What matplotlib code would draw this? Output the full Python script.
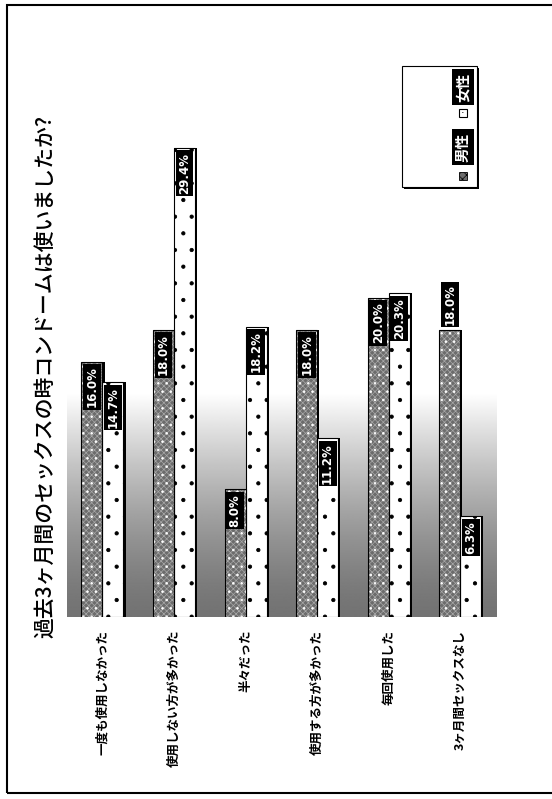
import numpy as np
import matplotlib.pyplot as plt
from matplotlib.patches import Rectangle

plt.rcParams['font.family'] = ['Noto Sans CJK JP', 'DejaVu Sans']

title = '過去3ヶ月間のセックスの時コンドームは使いましたか?'
categories = ['一度も使用しなかった', '使用しない方が多かった', '半々だった',
              '使用する方が多かった', '毎回使用した', '3ヶ月間セックスなし']
male = [16.0, 18.0, 8.0, 18.0, 20.0, 18.0]
female = [14.7, 29.4, 18.2, 11.2, 20.3, 6.3]
legend_labels = ['男性', '女性']

W, H = 552, 799
fig = plt.figure(figsize=(W / 100, H / 100), dpi=100)
ax = fig.add_axes([0.1208, 0.2278, 0.778, 0.599])
ax.set_xlim(-0.5, 5.5)
ax.set_ylim(0, 30)
ax.axis('off')

# shaded floor behind the bars
t = np.linspace(0, 1, 256)
grad = (0.45 + 0.55 * t ** 1.4).reshape(-1, 1)
ax.imshow(grad, extent=(-0.5, 5.5, 0, 14), origin='lower', cmap='gray',
          vmin=0, vmax=1, aspect='auto', zorder=0)

x = np.arange(len(categories))
w = 0.293
xm = x - w / 2
xf = x + w / 2

# dark shadow on the right side of each bar
ax.bar(xm + 0.03, male, w, color='black', zorder=2)
ax.bar(xf + 0.03, female, w, color='black', zorder=2)

with plt.rc_context({'hatch.linewidth': 0.5}):
    ax.bar(xm, male, w, facecolor='#6c6c6c', edgecolor='#a8a8a8', hatch='xxxxxx', lw=0, zorder=3)
with plt.rc_context({'hatch.linewidth': 0.6}):
    ax.bar(xm, male, w, facecolor='none', edgecolor='white', hatch='..', lw=0, zorder=4)
    ax.bar(xf, female, w, facecolor='white', edgecolor='black', hatch='.', lw=0, zorder=3)
ax.bar(xm, male, w, fill=False, edgecolor='black', lw=0.8, zorder=5)
ax.bar(xf, female, w, fill=False, edgecolor='black', lw=0.8, zorder=5)

box = dict(boxstyle='square,pad=0.2', fc='black', ec='none')
for i, (m, f) in enumerate(zip(male, female)):
    if i == 5:
        ax.text(xm[i], m + 0.3, f'{m:.1f}%', rotation=90, ha='center', va='bottom',
                color='white', fontsize=8.5, fontweight='bold', family='DejaVu Sans',
                bbox=box, zorder=6)
    else:
        ax.text(xm[i], m - 0.3, f'{m:.1f}%', rotation=90, ha='center', va='top',
                color='white', fontsize=8.5, fontweight='bold', family='DejaVu Sans',
                bbox=box, zorder=6)
    ax.text(xf[i], f - 0.3, f'{f:.1f}%', rotation=90, ha='center', va='top',
            color='white', fontsize=8.5, fontweight='bold', family='DejaVu Sans',
            bbox=box, zorder=6)

for i, cat in enumerate(categories):
    ax.text(x[i], -0.8, cat, rotation=90, ha='center', va='top',
            fontsize=9, fontweight='bold')

fig.text(45 / W, 1 - 376 / H, title, rotation=90, ha='center', va='center',
         fontsize=15, fontweight='medium')

# outer frame
fig.patches.append(Rectangle((7 / W, 1 - 793 / H), 560 / W, 788 / H,
                             transform=fig.transFigure, fill=False, ec='black', lw=1.5))

# legend box, drawn by hand because the text runs vertically
fig.patches.append(Rectangle((404 / W, 1 - 189 / H), 75 / W, 121 / H,
                             transform=fig.transFigure, fc='black', ec='none'))
fig.patches.append(Rectangle((402 / W, 1 - 187 / H), 75 / W, 121 / H,
                             transform=fig.transFigure, fc='white', ec='black', lw=0.8))
with plt.rc_context({'hatch.linewidth': 0.5}):
    fig.patches.append(Rectangle((459 / W, 1 - 180 / H), 8 / W, 8 / H, transform=fig.transFigure,
                                 fc='#6c6c6c', ec='black', hatch='xxxx', lw=0.6))
fig.patches.append(Rectangle((459 / W, 1 - 117 / H), 8 / W, 8 / H, transform=fig.transFigure,
                             fc='white', ec='black', lw=0.8))
fig.text(463 / W, 1 - 113 / H, '·', ha='center', va='center', fontsize=8, family='DejaVu Sans')
fig.text(463 / W, 1 - 147 / H, legend_labels[0], rotation=90, ha='center', va='center',
         color='white', fontsize=10.5, fontweight='bold', bbox=box)
fig.text(463 / W, 1 - 87 / H, legend_labels[1], rotation=90, ha='center', va='center',
         color='white', fontsize=10.5, fontweight='bold', bbox=box)

fig.savefig('out.png', dpi=100)
